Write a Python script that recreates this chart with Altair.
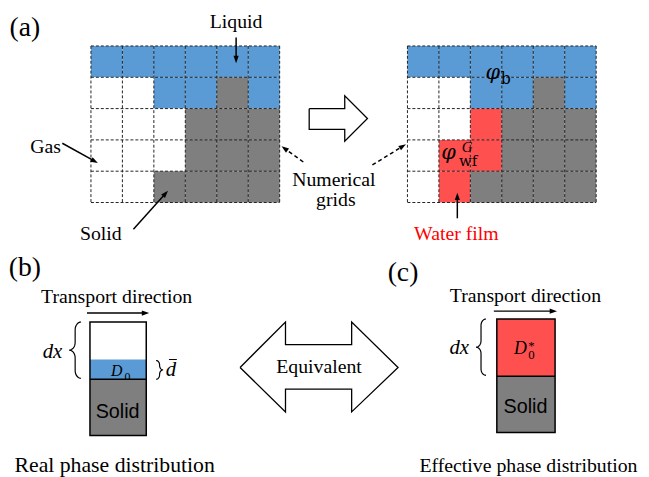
import math
import pandas as pd
import altair as alt

# ---------------- data ----------------
# (a) phase maps of the numerical grid, top row first
# L = liquid, G = gas, S = solid, W = water film
GRID_BEFORE = ["LLLLLL", "GGLLSL", "GGGSSS", "GGGSSS", "GGSSSS"]
GRID_AFTER = ["LLLLLL", "GGLLSL", "GGWSSS", "GWWSSS", "GWSSSS"]
PHASE_COLORS = {"L": "#5B9BD5", "G": "#FFFFFF", "S": "#7F7F7F", "W": "#FF5050"}

# (b) real and (c) effective phase columns, top to bottom, thickness (px)
REAL_PHASES = ["G", "L", "S"]
REAL_THICKNESS = [38, 20, 57]
EFFECTIVE_PHASES = ["W", "S"]
EFFECTIVE_THICKNESS = [58, 57]

# ---------------- layout ----------------
GRID_LEFTS = [92.0, 412.5]
GRID_TOP = 43.5
CELL_W, CELL_H = 31.85, 31.7
COLUMNS = [(91, 148, 323, REAL_PHASES, REAL_THICKNESS),
           (503, 562, 320, EFFECTIVE_PHASES, EFFECTIVE_THICKNESS)]

SERIF = "Liberation Serif"
SANS = "Liberation Sans"
SLAB = "DejaVu Serif"

XS = alt.Scale(domain=[8, 649], nice=False, zero=False)
YS = alt.Scale(domain=[8, 477], nice=False, zero=False, reverse=True)


def X(f="x"):
    return alt.X(f"{f}:Q", scale=XS, axis=None)


def Y(f="y"):
    return alt.Y(f"{f}:Q", scale=YS, axis=None)


layers = []

# ---- grid cells ----
cells = []
for left, grid in zip(GRID_LEFTS, [GRID_BEFORE, GRID_AFTER]):
    for r, row in enumerate(grid):
        for c, ph in enumerate(row):
            cells.append(dict(x=left + c * CELL_W, x2=left + (c + 1) * CELL_W,
                              y=GRID_TOP + r * CELL_H, y2=GRID_TOP + (r + 1) * CELL_H,
                              color=PHASE_COLORS[ph]))
layers.append(alt.Chart(pd.DataFrame(cells)).mark_rect(strokeWidth=0).encode(
    x=X(), x2=alt.X2("x2:Q"), y=Y(), y2=alt.Y2("y2:Q"),
    color=alt.Color("color:N", scale=None)))

# ---- dashed grid lines ----
glines = []
for left, grid in zip(GRID_LEFTS, [GRID_BEFORE, GRID_AFTER]):
    nr, nc = len(grid), len(grid[0])
    for r in range(nr + 1):
        yy = GRID_TOP + r * CELL_H
        glines.append(dict(x=left, x2=left + nc * CELL_W, y=yy, y2=yy))
    for c in range(nc + 1):
        xx = left + c * CELL_W
        glines.append(dict(x=xx, x2=xx, y=GRID_TOP, y2=GRID_TOP + nr * CELL_H))
layers.append(alt.Chart(pd.DataFrame(glines)).mark_rule(
    color="#222222", strokeWidth=1, strokeDash=[3, 2]).encode(
    x=X(), x2=alt.X2("x2:Q"), y=Y(), y2=alt.Y2("y2:Q")))


# ---- text helper ----
def text_layer(items, font, style="normal", align="center"):
    df = pd.DataFrame(items, columns=["text", "x", "y", "size", "color"])
    return alt.Chart(df).mark_text(font=font, fontStyle=style, align=align,
                                   baseline="alphabetic").encode(
        x=X(), y=Y(), text="text:N",
        size=alt.Size("size:Q", scale=None),
        color=alt.Color("color:N", scale=None))


# D0 text sits under the solid layer in (b)
col_rects, col_tops, col_boxes = [], [], []
for x0, x1, top, phases, th in COLUMNS:
    yy = top
    for ph, t in zip(phases, th):
        col_rects.append(dict(x=x0, x2=x1, y=yy, y2=yy + t, color=PHASE_COLORS[ph], ph=ph))
        if ph == "S":
            col_tops.append(dict(x=x0, x2=x1, y=yy, y2=yy))
        yy += t
    col_boxes.append(dict(x=x0, x2=x1, y=top, y2=yy))
cr = pd.DataFrame(col_rects)
layers.append(alt.Chart(cr[cr.ph != "S"]).mark_rect(strokeWidth=0).encode(
    x=X(), x2=alt.X2("x2:Q"), y=Y(), y2=alt.Y2("y2:Q"),
    color=alt.Color("color:N", scale=None)))
layers.append(text_layer([("D", 118, 378, 16, "black")], SERIF, "italic"))
layers.append(text_layer([("0", 129, 383, 12, "black")], SERIF))
layers.append(alt.Chart(cr[cr.ph == "S"]).mark_rect(strokeWidth=0).encode(
    x=X(), x2=alt.X2("x2:Q"), y=Y(), y2=alt.Y2("y2:Q"),
    color=alt.Color("color:N", scale=None)))
layers.append(alt.Chart(pd.DataFrame(col_boxes)).mark_rect(
    fillOpacity=0, stroke="black", strokeWidth=1.5).encode(
    x=X(), x2=alt.X2("x2:Q"), y=Y(), y2=alt.Y2("y2:Q")))
layers.append(alt.Chart(pd.DataFrame(col_tops)).mark_rule(
    color="black", strokeWidth=1.5).encode(
    x=X(), x2=alt.X2("x2:Q"), y=Y(), y2=alt.Y2("y2:Q")))

# ---- hollow block arrows ----
HOLLOW_RIGHT = [(313, 107), (349, 107), (349, 94), (372, 117), (349, 140),
                (349, 128), (313, 128), (313, 107)]
HOLLOW_DOUBLE = [(243, 369), (289, 323), (289, 346), (356, 346), (356, 323),
                 (403, 369), (356, 414), (356, 391), (289, 391), (289, 414), (243, 369)]
hp = []
for i, poly in enumerate([HOLLOW_RIGHT, HOLLOW_DOUBLE]):
    for k, (px, py) in enumerate(poly):
        hp.append(dict(id=i, order=k, x=px, y=py))
layers.append(alt.Chart(pd.DataFrame(hp)).mark_line(
    color="black", strokeWidth=1.3, strokeJoin="miter").encode(
    x=X(), y=Y(), detail="id:N", order="order:Q"))


# ---- braces ----
def brace(x_end, x_tip, y1, y2, bid, n=8):
    s = 1 if x_end > x_tip else -1
    rx = abs(x_end - x_tip) / 2
    ry = min(rx * 1.3, (y2 - y1) / 4)
    ym = (y1 + y2) / 2
    pts = []
    for k in range(n + 1):
        t = k / n * math.pi / 2
        pts.append((x_end - s * rx * math.sin(t), y1 + ry - ry * math.cos(t)))
    for k in range(n + 1):
        t = k / n * math.pi / 2
        pts.append((x_tip + s * rx * math.cos(t), ym - ry + ry * math.sin(t)))
    for k in range(n + 1):
        t = k / n * math.pi / 2
        pts.append((x_tip + s * rx * math.sin(t), ym + ry - ry * math.cos(t)))
    for k in range(n + 1):
        t = k / n * math.pi / 2
        pts.append((x_end - s * rx * math.cos(t), y2 - ry + ry * math.sin(t)))
    return [dict(id=bid, order=i, x=px, y=py) for i, (px, py) in enumerate(pts)]


bp = brace(82, 70, 323, 380, 0) + brace(158, 165, 362, 381, 1) + brace(492, 482, 320, 377, 2)
layers.append(alt.Chart(pd.DataFrame(bp)).mark_line(
    color="black", strokeWidth=1.2).encode(
    x=X(), y=Y(), detail="id:N", order="order:Q"))

# ---- line arrows ----
ARROWS_SOLID = [(239, 35, 239, 61), (63, 142, 99, 162), (135, 229, 170, 190),
                (463, 218, 463, 192), (88, 314, 151, 314), (500, 312, 564, 312)]
ARROWS_DASHED = [(307, 161, 285, 145), (377, 164, 411, 143)]
HEAD_PATH = "M0,-1L0.7,1L-0.7,1Z"
HEAD_SIZE = 56


def arrow_rows(arrows):
    lines, heads = [], []
    r = math.sqrt(HEAD_SIZE) / 2
    for i, (x1, y1, x2, y2) in enumerate(arrows):
        dx, dy = x2 - x1, y2 - y1
        L = math.hypot(dx, dy)
        ux, uy = dx / L, dy / L
        lines.append(dict(id=i, order=0, x=x1, y=y1))
        lines.append(dict(id=i, order=1, x=x2 - ux * r, y=y2 - uy * r))
        ang = math.degrees(math.atan2(dx, -dy)) % 360
        heads.append(dict(x=x2 - ux * r, y=y2 - uy * r, angle=ang))
    return pd.DataFrame(lines), pd.DataFrame(heads)


for arrows, dash in [(ARROWS_SOLID, None), (ARROWS_DASHED, [4, 3])]:
    ldf, hdf = arrow_rows(arrows)
    kw = dict(color="black", strokeWidth=1.5)
    if dash:
        kw["strokeDash"] = dash
    layers.append(alt.Chart(ldf).mark_line(**kw).encode(
        x=X(), y=Y(), detail="id:N", order="order:Q"))
    layers.append(alt.Chart(hdf).mark_point(
        shape=HEAD_PATH, filled=True, color="black", opacity=1, size=HEAD_SIZE).encode(
        x=X(), y=Y(), angle=alt.Angle("angle:Q", scale=None)))

# d-bar
layers.append(alt.Chart(pd.DataFrame([dict(x=171, x2=179, y=361, y2=361)])).mark_rule(
    color="black", strokeWidth=1).encode(x=X(), x2=alt.X2("x2:Q"), y=Y(), y2=alt.Y2("y2:Q")))

# ---- texts ----
K, RED = "black", "#FF0000"
LABELS = [
    ("(a)", 25, 33, 28, K), ("(b)", 25, 276, 28, K), ("(c)", 408, 281, 28, K),
    ("Liquid", 239, 25, 20, K), ("Gas", 46, 152, 20, K), ("Solid", 102, 240, 20, K),
    ("Numerical", 338, 185, 20, K), ("grids", 340, 206, 20, K),
    ("Water film", 462, 240, 20, RED),
    ("Transport direction", 118, 304, 20, K), ("Transport direction", 532, 303, 20, K),
    ("Equivalent", 323, 375, 20, K),
    ("Real phase distribution", 116, 475, 22, K),
    ("Effective phase distribution", 535, 475, 20, K),
    ("0", 538, 360, 13, K), ("*", 538, 351, 13, K),
]
SUBSCRIPTS = [("b", 512, 82, 16, K), ("wf", 474, 165, 15, K)]
MATH_ITALIC = [
    ("dx", 53, 359, 21, K), ("dx", 465, 355, 21, K), ("d", 173, 378, 21, K),
    ("D", 527, 355, 18, K), ("G", 473, 151, 15, K),
]
PHI = [("φ", 499, 77, 21, K), ("φ", 454, 158, 21, K)]
SANS_LABELS = [("Solid", 119, 420, 20, K), ("Solid", 532, 415, 20, K)]

layers.append(text_layer(LABELS, SERIF))
layers.append(text_layer(SUBSCRIPTS, SLAB))
layers.append(text_layer(MATH_ITALIC, SERIF, "italic"))
layers.append(text_layer(PHI, SLAB, "italic"))
layers.append(text_layer(SANS_LABELS, SANS))

chart = alt.layer(*layers).properties(
    width=641, height=469, padding=0, autosize="none", background="white"
).configure_view(stroke=None)

chart.save("out.html", embed_options={"renderer": "svg", "actions": False})
